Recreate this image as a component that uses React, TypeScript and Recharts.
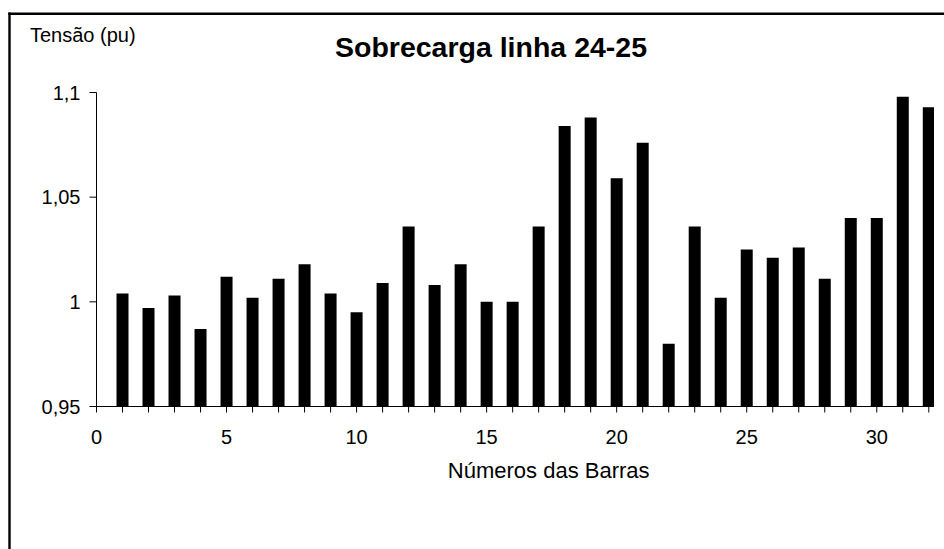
import { BarChart, Bar, XAxis, YAxis } from "recharts"

// bus numbers and per-unit voltage after the line 24-25 overload
const BARRAS = [1, 2, 3, 4, 5, 6, 7, 8, 9, 10, 11, 12, 13, 14, 15, 16, 17, 18, 19, 20, 21, 22, 23, 24, 25, 26, 27, 28, 29, 30, 31, 32]
const TENSAO = [
  1.004, 0.997, 1.003, 0.987, 1.012, 1.002, 1.011, 1.018, 1.004, 0.995, 1.009, 1.036, 1.008, 1.018, 1.0, 1.0,
  1.036, 1.084, 1.088, 1.059, 1.076, 0.98, 1.036, 1.002, 1.025, 1.021, 1.026, 1.011, 1.04, 1.04, 1.098, 1.093,
]

const X_TICKS = [0, 1, 2, 3, 4, 5, 6, 7, 8, 9, 10, 11, 12, 13, 14, 15, 16, 17, 18, 19, 20, 21, 22, 23, 24, 25, 26, 27, 28, 29, 30, 31, 32]
const X_LABELS = [0, 5, 10, 15, 20, 25, 30]
const Y_TICKS = [0.95, 1, 1.05, 1.1]

const data = BARRAS.map((barra, i) => ({ barra, tensao: TENSAO[i] }))

const FONT = '"Liberation Sans", Arial, sans-serif'

function formatPu(v: number) {
  return String(v).replace(".", ",")
}

export default function App() {
  return (
    <div style={{ position: "absolute", left: 0, top: 0, width: 944, height: 549, overflow: "hidden", background: "#fff" }}>
      <BarChart
        width={944}
        height={549}
        data={data}
        margin={{ top: 92.5, right: 10, left: 36.5, bottom: 112.5 }}
      >
        <XAxis
          dataKey="barra"
          type="number"
          domain={[0, 32.2]}
          ticks={X_TICKS}
          interval={0}
          allowDataOverflow
          height={30}
          tickSize={6}
          tickMargin={17}
          tickFormatter={(v) => (X_LABELS.includes(v) ? String(v) : "")}
          tick={{ fill: "#000", fontSize: 20, fontFamily: FONT }}
          axisLine={{ stroke: "#000" }}
          tickLine={{ stroke: "#000" }}
        />
        <YAxis
          type="number"
          domain={[0.95, 1.1]}
          ticks={Y_TICKS}
          allowDataOverflow
          width={60}
          tickSize={7}
          tickMargin={9}
          tickFormatter={formatPu}
          tick={{ fill: "#000", fontSize: 20, fontFamily: FONT }}
          axisLine={{ stroke: "#000" }}
          tickLine={{ stroke: "#000" }}
        />
        <Bar dataKey="tensao" fill="#000" barSize={12} isAnimationActive={false} />
      </BarChart>
      <svg
        width={944}
        height={549}
        style={{ position: "absolute", left: 0, top: 0, pointerEvents: "none" }}
      >
        <line x1={9.5} y1={12.6} x2={9.5} y2={549} stroke="#000" strokeWidth={2.4} />
        <line x1={8.3} y1={13.8} x2={944} y2={13.8} stroke="#000" strokeWidth={2.4} />
        <text x={30} y={41.5} fontSize={20} fontFamily={FONT} fill="#000">
          Tensão (pu)
        </text>
        <text x={491} y={57.3} fontSize={28.5} fontWeight="bold" fontFamily={FONT} fill="#000" textAnchor="middle">
          Sobrecarga linha 24-25
        </text>
        <text x={548.7} y={478.3} fontSize={22} fontFamily={FONT} fill="#000" textAnchor="middle">
          Números das Barras
        </text>
      </svg>
    </div>
  )
}
